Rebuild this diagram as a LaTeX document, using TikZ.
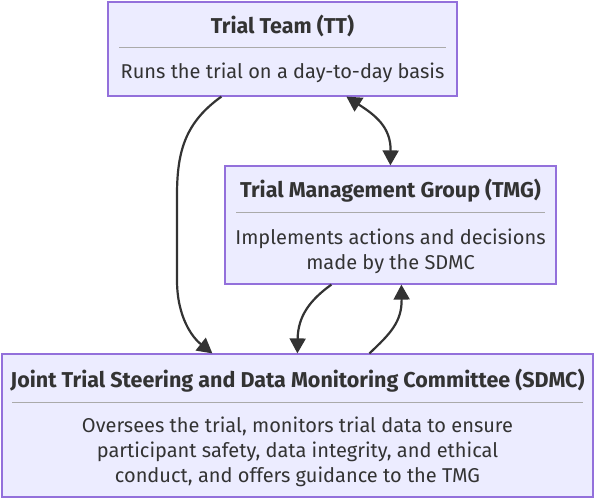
\documentclass[tikz,border=0pt]{standalone}
\usepackage{fontspec}
\setmainfont{Fira Sans}
\usetikzlibrary{arrows.meta,calc}
\definecolor{boxfill}{HTML}{ECECFF}
\definecolor{boxdraw}{HTML}{9370DB}
\definecolor{txt}{HTML}{333333}
\definecolor{sep}{HTML}{AAAAAA}
\tikzset{
  box/.style={draw=boxdraw,fill=boxfill,line width=1.2pt,inner sep=0pt,rectangle},
  ttl/.style={font=\fontsize{21.5}{24}\selectfont\bfseries,text=txt,inner sep=0pt},
  body/.style={font=\fontsize{20}{25}\selectfont,text=txt,inner sep=0pt,align=center},
  sepline/.style={draw=sep,line width=1pt},
  tip/.style={},
  conn/.style={draw=txt,line width=2.2pt,-{Triangle[length=15pt,width=16pt]}},
  conn2/.style={draw=txt,line width=2.2pt,{Triangle[length=15pt,width=16pt]}-{Triangle[length=15pt,width=16pt]}}
}
\begin{document}
\begin{tikzpicture}[x=1pt,y=-1pt]
\useasboundingbox (0,0) rectangle (595,500);
\fill[white] (0,0) rectangle (595,500);
% boxes
\node[box,minimum width=349pt,minimum height=94pt] (tt) at (282.5,49) {};
\node[box,minimum width=331pt,minimum height=118pt] (tmg) at (390.5,225) {};
\node[box,minimum width=591pt,minimum height=143pt] (sdmc) at (297.5,425.5) {};
% texts
\node[ttl] (ttT) at (282.5,26) {Trial Team (TT)};
\draw[sepline] (119,48) -- (446,48);
\node[body] (ttB) at (282.5,73) {Runs the trial on a day-to-day basis};
\node[ttl] (tmgT) at (390.5,191) {Trial Management Group (TMG)};
\draw[sepline] (236,213) -- (545,213);
\node[body] (tmgB) at (390.5,251) {Implements actions and decisions\\made by the SDMC};
\node[ttl] (sdmcT) at (297.5,381) {Joint Trial Steering and Data Monitoring Committee (SDMC)};
\draw[sepline] (12,402) -- (583,402);
\node[body] (sdmcB) at (297.5,452) {Oversees the trial, monitors trial data to ensure\\participant safety, data integrity, and ethical\\conduct, and offers guidance to the TMG};
% connector end points
\coordinate (a1) at ($(tt.south west)+(114,0)$);
\coordinate (a2) at ($(sdmc.north west)+(211,0)$);
\coordinate (b1) at ($(tt.south west)+(239,0)$);
\coordinate (b2) at ($(tmg.north west)+(166,0)$);
\coordinate (c1) at ($(tmg.south west)+(107,0)$);
\coordinate (c2) at ($(sdmc.north west)+(296,0)$);
\coordinate (d1) at ($(sdmc.north west)+(368,0)$);
\coordinate (d2) at ($(tmg.south west)+(177,0)$);
% connectors
\draw[conn] (a1) .. controls (186,122) and (177,150) .. (177,195) -- (177,280) .. controls (177,318) and (193,338) .. (a2);
\draw[conn2] (b1) .. controls (375,115) and (391,127) .. (b2);
\draw[conn] (c1) .. controls (310,300) and (298,316) .. (c2);
\draw[conn] (d1) .. controls (390,334) and (402,322) .. (d2);
\end{tikzpicture}
\end{document}
